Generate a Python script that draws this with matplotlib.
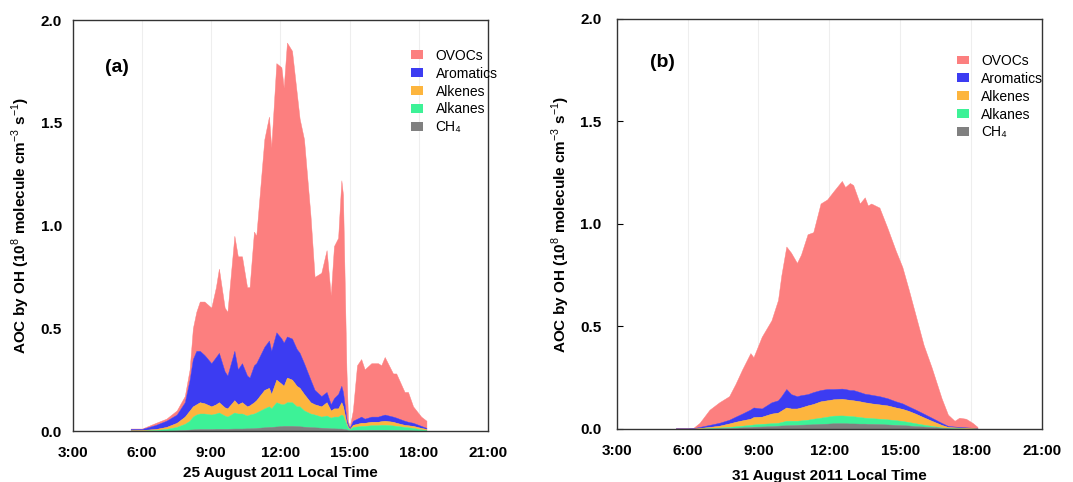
import matplotlib
matplotlib.use("Agg")
import matplotlib.pyplot as plt
from matplotlib.patches import Patch
import numpy as np

plt.rcParams['font.family'] = ['Liberation Sans', 'DejaVu Sans']
plt.rcParams['mathtext.fontset'] = 'custom'
plt.rcParams['mathtext.rm'] = 'Liberation Sans'
plt.rcParams['mathtext.bf'] = 'Liberation Sans:bold'

# ---------------- data ----------------
species = ['OVOCs', 'Aromatics', 'Alkenes', 'Alkanes', 'CH\u2084']
colors = ['#FC7F7F', '#3C3CF2', '#FDB53E', '#3DF297', '#808080']
x_ticks = [3, 6, 9, 12, 15, 18, 21]
x_ticklabels = ['3:00', '6:00', '9:00', '12:00', '15:00', '18:00', '21:00']
y_ticks = [0.0, 0.5, 1.0, 1.5, 2.0]
panel_labels = ['(a)', '(b)']
x_titles = ['25 August 2011 Local Time', '31 August 2011 Local Time']

# Panel (a): 25 August 2011, cumulative stack boundaries (10^8 molecule cm-3 s-1)
t_a = [5.5, 6.0, 6.6, 7.05, 7.5, 7.85, 8.06, 8.2, 8.35, 8.5, 8.7, 9.0, 9.2, 9.33, 9.58, 9.7,
       10.0, 10.15, 10.33, 10.55, 10.66, 10.85, 10.95, 11.3, 11.5, 11.6, 11.82, 12.04, 12.14,
       12.28, 12.5, 12.7, 12.83, 13.02, 13.3, 13.48, 13.77, 14.0, 14.18, 14.32, 14.5, 14.64,
       14.71, 14.86, 14.93, 15.0, 15.14, 15.32, 15.5, 15.65, 15.94, 16.23, 16.37, 16.52, 16.88,
       17.02, 17.38, 17.53, 17.75, 18.1, 18.33]
a_total = [0.012, 0.012, 0.04, 0.06, 0.10, 0.17, 0.30, 0.50, 0.58, 0.63, 0.63, 0.60, 0.70, 0.79, 0.60, 0.58,
           0.95, 0.85, 0.85, 0.70, 0.70, 0.97, 0.95, 1.42, 1.53, 1.38, 1.79, 1.77, 1.67,
           1.89, 1.85, 1.65, 1.52, 1.42, 1.05, 0.75, 0.77, 0.88, 0.66, 0.90, 0.94, 1.22,
           1.15, 0.30, 0.05, 0.02, 0.10, 0.32, 0.35, 0.30, 0.33, 0.33, 0.32, 0.36, 0.28,
           0.28, 0.19, 0.19, 0.12, 0.07, 0.05]
a_aromatics_top = [0.010, 0.010, 0.03, 0.05, 0.08, 0.14, 0.25, 0.35, 0.39, 0.39, 0.37, 0.33, 0.36, 0.38, 0.29, 0.27,
                   0.39, 0.30, 0.33, 0.27, 0.26, 0.32, 0.33, 0.41, 0.44, 0.39, 0.48, 0.45, 0.43,
                   0.46, 0.45, 0.40, 0.38, 0.33, 0.25, 0.20, 0.17, 0.19, 0.13, 0.16, 0.18, 0.22,
                   0.19, 0.06, 0.03, 0.015, 0.05, 0.06, 0.07, 0.06, 0.07, 0.07, 0.075, 0.08, 0.07,
                   0.065, 0.05, 0.045, 0.04, 0.025, 0.015]
a_alkenes_top = [0.004, 0.005, 0.01, 0.02, 0.04, 0.07, 0.10, 0.12, 0.13, 0.14, 0.135, 0.12, 0.13, 0.14, 0.115, 0.11,
                 0.15, 0.13, 0.14, 0.12, 0.125, 0.14, 0.15, 0.20, 0.21, 0.18, 0.25, 0.23, 0.22,
                 0.26, 0.25, 0.22, 0.21, 0.18, 0.14, 0.13, 0.12, 0.14, 0.10, 0.11, 0.11, 0.14,
                 0.12, 0.04, 0.02, 0.01, 0.03, 0.035, 0.04, 0.04, 0.045, 0.045, 0.048, 0.05, 0.045,
                 0.04, 0.03, 0.028, 0.025, 0.015, 0.01]
a_alkanes_top = [0.002, 0.002, 0.005, 0.01, 0.02, 0.035, 0.05, 0.07, 0.08, 0.085, 0.085, 0.08, 0.085, 0.09, 0.075, 0.07,
                 0.09, 0.085, 0.085, 0.075, 0.08, 0.085, 0.09, 0.11, 0.12, 0.11, 0.14, 0.13, 0.13,
                 0.14, 0.14, 0.12, 0.12, 0.10, 0.085, 0.08, 0.07, 0.075, 0.065, 0.07, 0.07, 0.08,
                 0.075, 0.03, 0.015, 0.008, 0.02, 0.022, 0.025, 0.025, 0.028, 0.028, 0.03, 0.03, 0.027,
                 0.025, 0.02, 0.018, 0.015, 0.008, 0.005]
a_ch4_top = [0.001, 0.001, 0.001, 0.002, 0.003, 0.005, 0.007, 0.008, 0.009, 0.010, 0.010, 0.010, 0.011, 0.011, 0.011, 0.011,
             0.012, 0.012, 0.012, 0.013, 0.013, 0.014, 0.015, 0.018, 0.020, 0.020, 0.022, 0.024, 0.025,
             0.025, 0.025, 0.024, 0.023, 0.021, 0.019, 0.018, 0.016, 0.015, 0.013, 0.013, 0.012, 0.012,
             0.011, 0.008, 0.005, 0.003, 0.004, 0.005, 0.005, 0.005, 0.006, 0.006, 0.006, 0.006, 0.005,
             0.005, 0.004, 0.004, 0.003, 0.002, 0.002]

# Panel (b): 31 August 2011, cumulative stack boundaries
t_b = [5.5, 6.0, 6.24, 6.51, 6.93, 7.34, 7.76, 8.03, 8.31, 8.66, 8.79, 9.14, 9.55, 9.83, 9.97, 10.18,
       10.38, 10.63, 10.8, 11.08, 11.32, 11.63, 11.91, 12.18, 12.53, 12.67, 12.87, 13.01, 13.29,
       13.5, 13.63, 13.77, 14.12, 14.46, 14.81, 15.09, 15.36, 15.64, 15.99, 16.33, 16.75, 17.02,
       17.3, 17.5, 17.78, 18.06, 18.27]
b_total = [0.004, 0.004, 0.005, 0.03, 0.094, 0.13, 0.16, 0.22, 0.29, 0.37, 0.35, 0.45, 0.53, 0.63, 0.75, 0.89,
           0.86, 0.81, 0.85, 0.95, 0.96, 1.10, 1.12, 1.16, 1.21, 1.18, 1.20, 1.19, 1.10,
           1.13, 1.09, 1.10, 1.08, 0.98, 0.87, 0.79, 0.68, 0.56, 0.41, 0.30, 0.15, 0.07,
           0.04, 0.055, 0.05, 0.03, 0.01]
b_aromatics_top = [0.003, 0.003, 0.004, 0.01, 0.02, 0.03, 0.045, 0.06, 0.075, 0.095, 0.105, 0.10, 0.13, 0.14, 0.16, 0.195,
                   0.17, 0.16, 0.165, 0.17, 0.18, 0.19, 0.195, 0.195, 0.197, 0.195, 0.19, 0.19, 0.18,
                   0.172, 0.17, 0.167, 0.16, 0.15, 0.135, 0.125, 0.11, 0.095, 0.075, 0.055, 0.03, 0.015,
                   0.012, 0.01, 0.008, 0.006, 0.004]
b_alkenes_top = [0.002, 0.002, 0.002, 0.005, 0.01, 0.016, 0.027, 0.035, 0.042, 0.05, 0.058, 0.06, 0.075, 0.08, 0.09, 0.105,
                 0.10, 0.10, 0.105, 0.115, 0.122, 0.135, 0.14, 0.145, 0.147, 0.145, 0.142, 0.14, 0.135,
                 0.13, 0.128, 0.125, 0.12, 0.115, 0.105, 0.098, 0.088, 0.075, 0.057, 0.04, 0.02, 0.01,
                 0.008, 0.007, 0.006, 0.004, 0.003]
b_alkanes_top = [0.001, 0.001, 0.001, 0.002, 0.004, 0.007, 0.01, 0.013, 0.016, 0.02, 0.022, 0.025, 0.028, 0.03, 0.034, 0.04,
                 0.04, 0.04, 0.042, 0.045, 0.05, 0.055, 0.06, 0.065, 0.066, 0.065, 0.063, 0.062, 0.058,
                 0.055, 0.054, 0.053, 0.05, 0.047, 0.043, 0.039, 0.034, 0.028, 0.021, 0.015, 0.008, 0.004,
                 0.003, 0.003, 0.002, 0.002, 0.001]
b_ch4_top = [0.0005, 0.0005, 0.0005, 0.001, 0.002, 0.003, 0.005, 0.006, 0.008, 0.010, 0.011, 0.012, 0.014, 0.016, 0.017, 0.018,
             0.019, 0.020, 0.021, 0.022, 0.023, 0.025, 0.026, 0.028, 0.028, 0.028, 0.027, 0.027, 0.026,
             0.026, 0.025, 0.025, 0.024, 0.022, 0.020, 0.019, 0.017, 0.014, 0.012, 0.010, 0.006, 0.003,
             0.002, 0.002, 0.0015, 0.001, 0.001]

panels = [
    (t_a, [a_total, a_aromatics_top, a_alkenes_top, a_alkanes_top, a_ch4_top]),
    (t_b, [b_total, b_aromatics_top, b_alkenes_top, b_alkanes_top, b_ch4_top]),
]

# ---------------- figure ----------------
fig = plt.figure(figsize=(10.73, 4.82), dpi=100)
axes_rects = [[0.068, 0.1058, 0.3868, 0.8527], [0.5747, 0.1100, 0.3964, 0.8506]]
label_pos = [(0.077, 0.885), (0.078, 0.895)]
legend_pos = [(0.815, 0.93), (0.80, 0.915)]
ytick_pad = [8, 11]
xlabel_pad = [4, 8]

ylabel = r'AOC by OH (10$^{8}$ molecule cm$^{-3}$ s$^{-1}$)'

for i, (rect, (t, tops)) in enumerate(zip(axes_rects, panels)):
    ax = fig.add_axes(rect)
    tt = np.array(t)
    # draw stacked areas from top boundary downwards
    for k in range(len(tops)):
        upper = np.array(tops[k])
        lower = np.array(tops[k + 1]) if k + 1 < len(tops) else np.zeros_like(upper)
        ax.fill_between(tt, lower, upper, color=colors[k], linewidth=0.3,
                        edgecolor=colors[k], zorder=2)
    for xv in [6, 9, 12, 15, 18]:
        ax.axvline(xv, color='#eeeeee', lw=0.8, zorder=1)
    ax.set_xlim(3, 21)
    ax.set_ylim(0, 2.0)
    ax.set_xticks(x_ticks)
    ax.set_xticklabels(x_ticklabels)
    ax.set_yticks(y_ticks)
    ax.set_yticklabels([f'{v:.1f}' for v in y_ticks])
    for lab in ax.get_xticklabels() + ax.get_yticklabels():
        lab.set_fontweight('bold')
        lab.set_fontsize(11)
    if i == 1:
        ax.tick_params(axis='y', direction='in', length=4, width=0.8, pad=ytick_pad[i])
    else:
        ax.tick_params(axis='y', length=0, pad=ytick_pad[i])
    ax.tick_params(axis='x', length=0, pad=11)
    for sp in ax.spines.values():
        sp.set_linewidth(1.0)
        sp.set_color('#333333')
    ax.set_xlabel(x_titles[i], fontsize=11, fontweight='bold', labelpad=xlabel_pad[i])
    ax.set_ylabel(ylabel, fontsize=11, fontweight='bold', labelpad=6)
    ax.text(label_pos[i][0], label_pos[i][1], panel_labels[i], transform=ax.transAxes,
            fontsize=14, fontweight='bold', ha='left', va='center')
    handles = [Patch(facecolor=c, edgecolor='none') for c in colors]
    ax.legend(handles, species, loc='upper left', bbox_to_anchor=legend_pos[i],
              frameon=False, fontsize=10, handlelength=0.85, handleheight=0.6,
              handletextpad=0.9, labelspacing=0.28, borderaxespad=0, borderpad=0,
              prop={'family': ['Liberation Sans', 'DejaVu Sans'], 'size': 10})

fig.savefig('out.png', dpi=100)
